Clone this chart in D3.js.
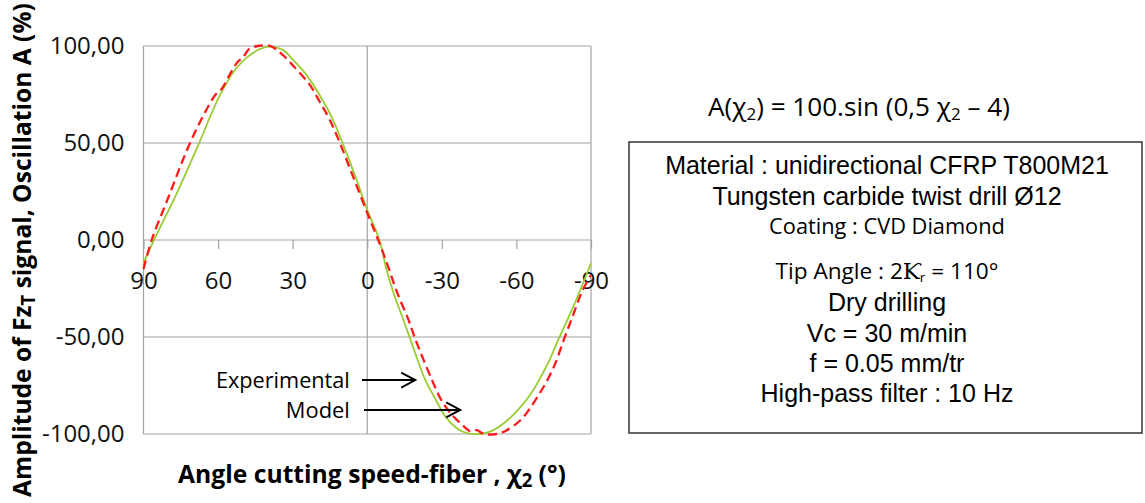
<!DOCTYPE html>
<html>
<head>
<meta charset="utf-8">
<script src="https://cdn.jsdelivr.net/npm/d3@7"></script>
<style>
  html, body { margin: 0; padding: 0; background: #fff; }
  svg { display: block; }
</style>
</head>
<body>
<svg id="chart" width="1145" height="503"></svg>
<script>
// ---------------- DATA ----------------
const xTicks = [90, 60, 30, 0, -30, -60, -90];
const yTicks = [100, 50, 0, -50, -100];
const yTickLabels = ["100,00", "50,00", "0,00", "-50,00", "-100,00"];

// Model (green, solid)
const modelChi = [90, 85.8, 77, 68.3, 59.5, 53, 48, 43, 39.3, 34, 29.8, 25, 20.4, 14.4, 9, 4, 0, -4.9, -7.8, -11, -14.5, -17.2, -23.3, -27, -31.4, -36, -40.1, -45, -50, -54.9, -60, -65.7, -72.5, -77, -83, -90];
const modelA   = [-12, 0, 23, 48, 74, 88, 94.5, 98.5, 99.7, 98, 92.8, 86, 77.3, 63.6, 47, 30, 15.5, 0, -15.5, -29, -41, -50.7, -72, -81, -91, -97, -99.6, -100, -98.5, -94.5, -88.5, -79.5, -64, -51, -34, -12];

// Experimental (red, dashed)
const expChi = [90, 86.7, 80, 72.3, 66, 61, 58.5, 55, 52, 50, 47.5, 44, 39, 34, 28.5, 23.1, 19, 15.1, 11, 5.5, 0, -4.4, -8.4, -12, -16.6, -19.3, -26, -30, -34.7, -38, -41.5, -44, -47, -52, -55, -61.7, -68.4, -74.5, -79.2, -83, -86.6, -90];
const expA   = [-15, 0, 22, 47, 64, 75, 78, 86, 92, 94, 98.5, 100, 100, 95.4, 88, 80, 71, 62, 50, 32, 14, 0, -13.7, -27, -41.2, -51, -72, -83, -91, -95, -98.6, -98, -100, -100, -98.8, -92.8, -81, -67, -51, -38, -26, -18];

// annotation positions (data units)
const annotations = [
  { label: "Experimental", chiText: 7, chiFrom: 2.1, chiTo: -19.3, a: -72.2, w: 134 },
  { label: "Model",        chiText: 7, chiFrom: 1.3, chiTo: -37.4, a: -87.6, w: 64 }
];

const infoArial = [
  { t: "Material : unidirectional CFRP T800M21", y: 174 },
  { t: "Tungsten carbide twist drill \u00D812", y: 205 },
  { t: "Dry drilling", y: 311 },
  { t: "Vc = 30 m/min", y: 342 },
  { t: "f = 0.05 mm/tr", y: 372 },
  { t: "High-pass filter : 10 Hz", y: 402 }
];

// ---------------- CHART ----------------
const svg = d3.select("#chart");
const L = 143.5, R = 591, T = 46, B = 434;
const x = d3.scaleLinear().domain([90, -90]).range([L, R]);
const y = d3.scaleLinear().domain([-100, 100]).range([B, T]);
const grid = "#a3a3a3";
const calibri = "'Open Sans', 'Noto Sans', sans-serif";

// compress text horizontally to a target width (emulates a narrower face)
function fitText(sel, w, base) {
  const bb = sel.node().getBBox();
  const k = w / bb.width;
  if (base) {
    sel.attr("transform", `${base} scale(${k},1)`);
  } else {
    const x0 = +sel.attr("x");
    sel.attr("transform", `translate(${x0 * (1 - k)},0) scale(${k},1)`);
  }
}

// horizontal gridlines
svg.append("g").selectAll("line").data(yTicks).join("line")
  .attr("x1", L).attr("x2", R)
  .attr("y1", d => y(d)).attr("y2", d => y(d))
  .attr("stroke", grid).attr("stroke-width", 1.2);
// borders + vertical zero line
[L, R, x(0)].forEach(xx => {
  svg.append("line").attr("x1", xx).attr("x2", xx).attr("y1", T).attr("y2", B)
    .attr("stroke", grid).attr("stroke-width", 1.2);
});

// x axis at A=0
const xAxis = svg.append("g").attr("transform", `translate(0,${y(0)})`)
  .call(d3.axisBottom(x).tickValues(xTicks).tickSizeInner(9).tickSizeOuter(0).tickPadding(23).tickFormat(d => String(d)));
xAxis.select(".domain").remove();
xAxis.selectAll(".tick line").attr("stroke", grid).attr("stroke-width", 1.2);
xAxis.selectAll(".tick text").attr("font-family", calibri).attr("font-size", 24).attr("fill", "#111");

// y axis labels
const yAxis = svg.append("g").attr("transform", `translate(${L},0)`)
  .call(d3.axisLeft(y).tickValues(yTicks).tickSize(0).tickPadding(19)
    .tickFormat(d => yTickLabels[yTicks.indexOf(d)]));
yAxis.select(".domain").remove();
yAxis.selectAll(".tick text").attr("font-family", calibri).attr("font-size", 24).attr("fill", "#111");

// lines
const modelData = modelChi.map((c, i) => [c, modelA[i]]);
const expData = expChi.map((c, i) => [c, expA[i]]);
svg.append("path").datum(modelData)
  .attr("d", d3.line().x(d => x(d[0])).y(d => y(d[1])).curve(d3.curveCatmullRom.alpha(0.5)))
  .attr("fill", "none").attr("stroke", "#99cc33").attr("stroke-width", 1.8);
svg.append("path").datum(expData)
  .attr("d", d3.line().x(d => x(d[0])).y(d => y(d[1])).curve(d3.curveCatmullRom.alpha(0.5)))
  .attr("fill", "none").attr("stroke", "#ff1a1a").attr("stroke-width", 2.3)
  .attr("stroke-dasharray", "9,5");

// annotations
annotations.forEach(a => {
  const yy = y(a.a);
  const t = svg.append("text").attr("x", x(a.chiText)).attr("y", yy).attr("dy", "0.36em")
    .attr("text-anchor", "end").attr("font-family", calibri).attr("font-size", 22)
    .attr("fill", "#000").text(a.label);
  fitText(t, a.w);
  const x0 = x(a.chiFrom), x1 = x(a.chiTo);
  svg.append("line").attr("x1", x0).attr("x2", x1).attr("y1", yy).attr("y2", yy)
    .attr("stroke", "#000").attr("stroke-width", 2);
  svg.append("path").attr("d", `M${x1 - 14},${yy - 7.5} L${x1},${yy} L${x1 - 14},${yy + 7.5}`)
    .attr("fill", "none").attr("stroke", "#000").attr("stroke-width", 2);
});

// axis titles
const xt = svg.append("text").attr("x", 372).attr("y", 483).attr("text-anchor", "middle")
  .attr("font-family", calibri).attr("font-weight", "bold").attr("font-size", 25).attr("fill", "#000");
xt.append("tspan").text("Angle cutting speed-fiber , \u03C7");
xt.append("tspan").attr("font-size", "75%").attr("baseline-shift", "-22%").text("2");
xt.append("tspan").text(" (\u00B0)");
fitText(xt, 388);

const yt = svg.append("text").attr("x", 0).attr("y", 0).attr("text-anchor", "middle")
  .attr("font-family", calibri).attr("font-weight", "bold").attr("font-size", 25).attr("fill", "#000");
yt.append("tspan").text("Amplitude of Fz");
yt.append("tspan").attr("font-size", "75%").attr("baseline-shift", "-22%").text("T");
yt.append("tspan").text(" signal, Oscillation A (%)");
fitText(yt, 494, "translate(31,250) rotate(-90)");

// formula
const ft = svg.append("text").attr("x", 859).attr("y", 116).attr("text-anchor", "middle")
  .attr("font-family", calibri).attr("font-size", 25).attr("fill", "#000");
ft.append("tspan").text("A(\u03C7");
ft.append("tspan").attr("font-size", "65%").attr("baseline-shift", "-25%").text("2");
ft.append("tspan").text(") = 100.sin (0,5 \u03C7");
ft.append("tspan").attr("font-size", "65%").attr("baseline-shift", "-25%").text("2");
ft.append("tspan").text(" \u2013 4)");
fitText(ft, 302);

// info box
svg.append("rect").attr("x", 629).attr("y", 142).attr("width", 513).attr("height", 291)
  .attr("fill", "none").attr("stroke", "#333").attr("stroke-width", 1.5);
const cx = 887;
infoArial.forEach(d => {
  svg.append("text").attr("x", cx).attr("y", d.y).attr("text-anchor", "middle")
    .attr("font-family", "'Liberation Sans', Arial, sans-serif").attr("font-size", 25)
    .attr("fill", "#000").text(d.t);
});
const ct = svg.append("text").attr("x", cx).attr("y", 234).attr("text-anchor", "middle")
  .attr("font-family", calibri).attr("font-size", 22).attr("fill", "#000").text("Coating : CVD Diamond");
fitText(ct, 236);
const tt = svg.append("text").attr("x", cx).attr("y", 279).attr("text-anchor", "middle")
  .attr("font-family", calibri).attr("font-size", 22).attr("fill", "#000");
tt.append("tspan").text("Tip Angle : 2");
tt.append("tspan").attr("font-family", "'DejaVu Serif', serif").text("\u0198");
tt.append("tspan").attr("font-size", "60%").attr("baseline-shift", "-25%").text("r");
tt.append("tspan").text(" = 110\u00B0");
fitText(tt, 223);
</script>
</body>
</html>
